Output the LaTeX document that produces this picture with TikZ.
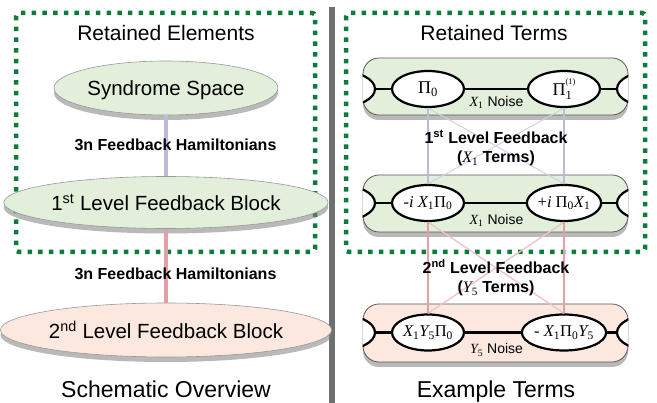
\documentclass[tikz,border=0pt]{standalone}
\usepackage{fontspec}
\setmainfont{Liberation Sans}
\newfontfamily\serif{Liberation Serif}
\newcommand{\vr}[1]{{\serif\itshape #1}}
\newcommand{\sbs}[1]{\textsubscript{\serif\upshape\mdseries #1}}
\usetikzlibrary{shapes.geometric,shadows}
\definecolor{dgreen}{RGB}{12,124,60}
\definecolor{lgreen}{RGB}{226,239,219}
\definecolor{lpink}{RGB}{252,232,223}
\definecolor{lav}{RGB}{188,188,218}
\definecolor{lavlight}{RGB}{208,208,230}
\definecolor{rose}{RGB}{226,160,166}
\definecolor{roselight}{RGB}{238,194,198}
\definecolor{sepgray}{RGB}{110,112,112}
\begin{document}
\begin{tikzpicture}[x=1pt,y=-1pt,
  shad/.style={drop shadow={opacity=0.55,shadow xshift=0pt,shadow yshift=-5pt}},
  bigell/.style={ellipse,draw=gray!80,line width=0.6pt,inner sep=0pt,
    font=\fontsize{20.5}{24}\selectfont,text depth=0pt,shad},
  termbox/.style={rectangle,rounded corners=16pt,draw=black!65,line width=0.8pt,
    minimum width=265pt,minimum height=57pt,shad},
  termell/.style={ellipse,draw=black,line width=2.2pt,fill=white,
    minimum width=72pt,minimum height=36pt,inner sep=0pt},
  termline/.style={line width=2.5pt,black},
  greenbox/.style={draw=dgreen,line width=4.5pt,dash pattern=on 4.5pt off 6.2pt,rounded corners=3pt},
  title/.style={font=\fontsize{21}{25}\selectfont,anchor=base},
  subtitle/.style={font=\fontsize{23}{27}\selectfont,anchor=base},
  blab/.style={font=\fontsize{16}{19}\selectfont\bfseries,anchor=base},
  noise/.style={font=\fontsize{14}{17}\selectfont,anchor=base},
  elltxt/.style={font=\fontsize{16.5}{19}\selectfont\serif},
  elltxtbig/.style={font=\fontsize{18}{21}\selectfont\serif},
  lavconn/.style={lav,line width=3.5pt},
  roseconn/.style={rose,line width=3.5pt},
  lavv/.style={lav,line width=2pt},
  lavx/.style={lavlight,line width=1pt},
  rosev/.style={rose,line width=2pt},
  rosex/.style={roselight,line width=1.3pt}
]
\useasboundingbox (0,0) rectangle (657,403);
\fill[white] (0,0) rectangle (657,403);
% separator
\fill[sepgray] (329,7) rectangle (335,403);
% green dashed boxes
\draw[greenbox] (16,13) rectangle (315,252);
\draw[greenbox] (346,13) rectangle (645,252);

% ---------- left side ----------
\node[title] (t1) at (166,40.5) {Retained Elements};
\node[bigell,fill=lgreen,minimum width=224pt,minimum height=54pt] (syn) at (166,88) {Syndrome Space};
\node[bigell,fill=lgreen,minimum width=276pt,minimum height=52pt] (fb1) at (166,202.5) {1\textsuperscript{st} Level Feedback Block};
\node[bigell,fill=lpink,minimum width=302pt,minimum height=54pt] (fb2) at (166,330) {2\textsuperscript{nd} Level Feedback Block};
\draw[lavconn] (syn) -- (fb1);
\draw[roseconn] (fb1) -- (fb2);
\node[blab] (h1) at (175.5,151) {3n Feedback Hamiltonians};
\node[blab] (h2) at (175.5,280) {3n Feedback Hamiltonians};
\node[subtitle] (s1) at (166,398) {Schematic Overview};

% ---------- right side ----------
\node[title] (t2) at (494,40.5) {Retained Terms};

% row 1
\node[termbox,fill=lgreen] (r1) at (495.5,86.5) {};
\begin{scope}
\clip[rounded corners=16pt] (r1.north west) rectangle (r1.south east);
\node[termell] (a1) at (339,89) {};
\node[termell] (b1) at (653,89) {};
\end{scope}
\node[termell,elltxtbig] (p0) at (428,89) {Π\sbs{0}};
\node[termell,elltxtbig] (p1) at (564,89) {Π\rlap{\raisebox{0.62em}{\fontsize{8.5}{9}\selectfont(1)}}\raisebox{-0.22em}{\fontsize{12.5}{13}\selectfont 1}\hphantom{\fontsize{3}{3}\selectfont(1)}};
\draw[termline] (a1) -- (p0);
\draw[termline] (p0) -- (p1);
\draw[termline] (p1) -- (b1);
\node[noise] (n1) at (496.5,106.5) {\vr{X}\sbs{1} Noise};

% row 2
\node[termbox,fill=lgreen] (r2) at (495.5,203.5) {};
\begin{scope}
\clip[rounded corners=16pt] (r2.north west) rectangle (r2.south east);
\node[termell] (a2) at (339,203) {};
\node[termell] (b2) at (653,203) {};
\end{scope}
\node[termell,elltxt] (q0) at (428,203) {-\vr{i} \vr{X}\sbs{1}Π\sbs{0}};
\node[termell,elltxt] (q1) at (564,203) {+\vr{i} Π\sbs{0}\vr{X}\sbs{1}};
\draw[termline] (a2) -- (q0);
\draw[termline] (q0) -- (q1);
\draw[termline] (q1) -- (b2);
\node[noise] (n2) at (496.5,224.5) {\vr{X}\sbs{1} Noise};

% row 3
\node[termbox,fill=lpink,minimum height=58pt] (r3) at (495.5,333) {};
\begin{scope}
\clip[rounded corners=16pt] (r3.north west) rectangle (r3.south east);
\node[termell] (a3) at (339,332.5) {};
\node[termell] (b3) at (653,332.5) {};
\end{scope}
\node[termell,elltxt] (u0) at (428,332.5) {\vr{X}\sbs{1}\vr{Y}\sbs{5}Π\sbs{0}};
\node[termell,elltxt] (u1) at (564,332.5) {- \vr{X}\sbs{1}Π\sbs{0}\vr{Y}\sbs{5}};
\draw[termline] (a3) -- (u0);
\draw[termline] (u0) -- (u1);
\draw[termline] (u1) -- (b3);
\node[noise] (n3) at (496.5,354) {\vr{Y}\sbs{5} Noise};

% connectors row1 -> row2
\draw[lavx] (p0.south) -- (q1.north);
\draw[lavx] (p1.south) -- (q0.north);
\draw[lavv] (p0) -- (q0);
\draw[lavv] (p1) -- (q1);
% connectors row2 -> row3
\draw[rosex] (q0.south) -- (u1.north);
\draw[rosex] (q1.south) -- (u0.north);
\draw[rosev] (q0) -- (u0);
\draw[rosev] (q1) -- (u1);

\node[blab] (f1) at (496,144) {1\textsuperscript{st} Level Feedback};
\node[blab] (f1b) at (496,163) {(\vr{\mdseries X}\sbs{1} Terms)};
\node[blab] (f2) at (496,273.3) {2\textsuperscript{nd} Level Feedback};
\node[blab] (f2b) at (496,292.7) {(\vr{\mdseries Y}\sbs{5} Terms)};

\node[subtitle] (s2) at (496,398) {Example Terms};
\end{tikzpicture}
\end{document}
